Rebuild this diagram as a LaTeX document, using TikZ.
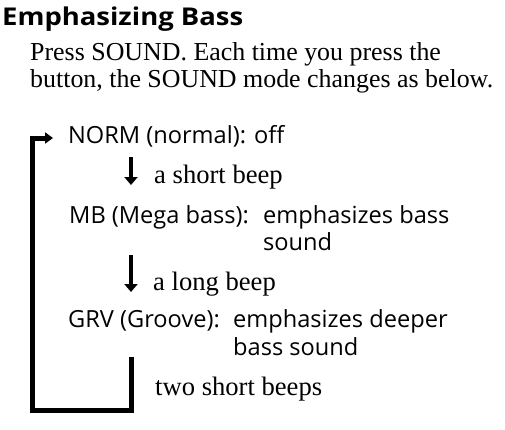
\documentclass[tikz,border=0pt]{standalone}
\usepackage{fontspec}
\setmainfont{Liberation Serif}
\newfontfamily\labelfont{Open Sans}
\newfontfamily\titlefont{Open Sans}[FakeStretch=1.12]
\usetikzlibrary{arrows.meta}

\begin{document}
\begin{tikzpicture}[x=1pt,y=-1pt,
		modetext/.style={anchor=base west,inner sep=0pt,font=\labelfont\fontsize{23.6}{27}\selectfont},
		bodytext/.style={anchor=base west,inner sep=0pt,font=\fontsize{25.9}{27}\selectfont},
		beeptext/.style={anchor=base west,inner sep=0pt,font=\fontsize{26.6}{27}\selectfont},
		steparrow/.style={-{Triangle[width=13pt,length=8pt]},line width=4pt},
		loopline/.style={-{Triangle[width=11pt,length=8pt]},line width=5pt}]
			\useasboundingbox (0,0) rectangle (505,429);
			\node[anchor=base west,inner sep=0pt,font=\titlefont\bfseries\fontsize{24.5}{28}\selectfont] (title) at (2,25){Emphasizing Bass};
			\node[bodytext] (intro1) at (30,60){Press SOUND. Each time you press the};
			\node[bodytext] (intro2) at (30,87){button, the SOUND mode changes as below.};
			% modes
			\node[modetext] (norm) at (68,143){NORM (normal): off};
			\node[modetext] (mb) at (69,223){MB (Mega bass):};
			\node[modetext] (mbdesc1) at (263,223){emphasizes bass};
			\node[modetext] (mbdesc2) at (263,250){sound};
			\node[modetext] (grv) at (68,327){GRV (Groove):};
			\node[modetext] (grvdesc1) at (233,327){emphasizes deeper};
			\node[modetext] (grvdesc2) at (233,355){bass sound};
			% beeps
			\node[beeptext] (beep1) at (154,183){a short beep};
			\node[beeptext] (beep2) at (153,290){a long beep};
			\node[beeptext] (beep3) at (155,395){two short beeps};
			\coordinate (a1s) at (131,157);
			\coordinate (a1e) at (131,185);
			\coordinate (a2s) at (131,255);
			\coordinate (a2e) at (131,292);
			\coordinate (back) at (131,357);
			\coordinate (corner) at (32.5,410.5);
			\coordinate (tip) at (53,138);
			\draw[steparrow] (a1s) -- (a1e);
			\draw[steparrow] (a2s) -- (a2e);
			\draw[loopline] (back) |- (corner) |- (tip);
		\end{tikzpicture}
\end{document}
